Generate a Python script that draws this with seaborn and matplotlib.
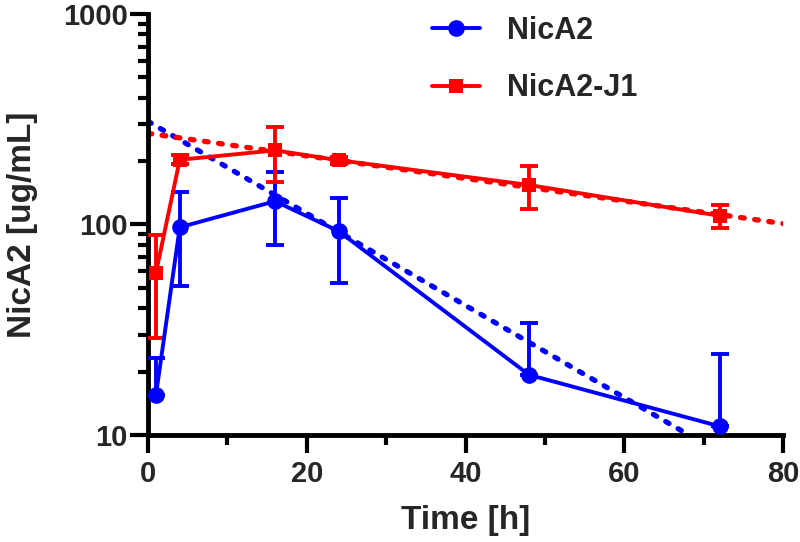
import numpy as np
import pandas as pd
import matplotlib
matplotlib.use("Agg")
import matplotlib.pyplot as plt
import matplotlib.ticker as mticker
import seaborn as sns

# dati (media e barre d'errore)
time_h = [1, 4, 16, 24, 48, 72]
nica2_mean = [15.5, 97, 129, 93, 19.3, 11.0]
nica2_err_up = [7.8, 46, 49, 40.5, 14.6, 13.3]
# le barre inferiori che scendono sotto l'asse non sono disegnate
nica2_err_low = [0, 46, 49, 40.5, 0, 0]
j1_mean = [59, 203, 225, 202, 154, 110]
j1_err_up = [30, 10, 65, 8, 35, 14]
j1_err_low = [30, 10, 65, 8, 35, 14]

# rette di fit (decadimento esponenziale, estremi)
fit_t = [0, 80]
nica2_fit = [309, 5.5]
j1_fit = [271, 101]

series_names = ["NicA2", "NicA2-J1"]
colors = {"NicA2": "#0000FF", "NicA2-J1": "#FF0000"}

df = pd.DataFrame({
    "Tempo": time_h * 2,
    "Conc": nica2_mean + j1_mean,
    "ErrSu": nica2_err_up + j1_err_up,
    "ErrGiu": nica2_err_low + j1_err_low,
    "Serie": ["NicA2"] * len(time_h) + ["NicA2-J1"] * len(time_h),
})
df_fit = pd.DataFrame({
    "Tempo": fit_t * 2,
    "Conc": nica2_fit + j1_fit,
    "Serie": ["NicA2"] * 2 + ["NicA2-J1"] * 2,
})

sns.set_style("ticks")
plt.rcParams["font.family"] = ["Liberation Sans", "DejaVu Sans"]
plt.rcParams["font.weight"] = "bold"

fig = plt.figure(figsize=(8, 5.42), dpi=100)
ax = fig.add_axes([0.185, 0.1974, 0.794, 0.7768])

markers = {"NicA2": "o", "NicA2-J1": "s"}
msize = {"NicA2": 12, "NicA2-J1": 10}

# rette di fit (puntini)
for nome in series_names:
    sub = df_fit[df_fit["Serie"] == nome]
    sns.lineplot(data=sub, x="Tempo", y="Conc", ax=ax, color=colors[nome],
                 linewidth=3.8, linestyle=(0, (0.7, 2.0)),
                 dash_capstyle="round", label="_nolegend_", zorder=2)

for nome in series_names:
    sub = df[df["Serie"] == nome]
    yerr = np.vstack([sub["ErrGiu"].values, sub["ErrSu"].values])
    ax.errorbar(sub["Tempo"], sub["Conc"], yerr=yerr, fmt="none",
                ecolor=colors[nome], elinewidth=2.8, capsize=6.8,
                capthick=2.8, zorder=3)
    sns.lineplot(data=sub, x="Tempo", y="Conc", ax=ax, color=colors[nome],
                 linewidth=2.8, marker=markers[nome], markersize=msize[nome],
                 markeredgewidth=0, label=nome, zorder=4)

ax.set_yscale("log")
ax.set_xlim(0, 80)
ax.set_ylim(10, 1000)

ax.xaxis.set_major_locator(mticker.MultipleLocator(20))
ax.xaxis.set_minor_locator(mticker.MultipleLocator(10))
ax.yaxis.set_major_locator(mticker.FixedLocator([10, 100, 1000]))
ax.yaxis.set_major_formatter(mticker.FixedFormatter(["10", "100", "1000"]))
ax.yaxis.set_minor_locator(mticker.LogLocator(base=10, subs=np.arange(2, 10)))
ax.yaxis.set_minor_formatter(mticker.NullFormatter())

sns.despine(ax=ax)
for s in ["left", "bottom"]:
    ax.spines[s].set_linewidth(3.5)
    ax.spines[s].set_color("black")

ax.tick_params(which="major", length=13, width=3, labelsize=21, color="black")
ax.tick_params(which="minor", length=7, width=3, color="black")
ax.tick_params(axis="y", which="major", pad=1.5)
ax.tick_params(axis="x", which="major", pad=5)
for lab in ax.get_xticklabels() + ax.get_yticklabels():
    lab.set_fontweight("bold")

ax.set_xlabel("Time [h]", fontsize=24, fontweight="bold", labelpad=12)
ax.set_ylabel("NicA2 [ug/mL]", fontsize=24, fontweight="bold", labelpad=18)

h, l = ax.get_legend_handles_labels()
leg = ax.legend(h, l, loc="center left", bbox_to_anchor=(0.54, 0.89),
                bbox_transform=fig.transFigure, frameon=False, fontsize=22,
                handlelength=1.57, handletextpad=0.9, labelspacing=0.9,
                borderpad=0, borderaxespad=0)
for t in leg.get_texts():
    t.set_fontweight("bold")

fig.savefig("out.png", dpi=100)
